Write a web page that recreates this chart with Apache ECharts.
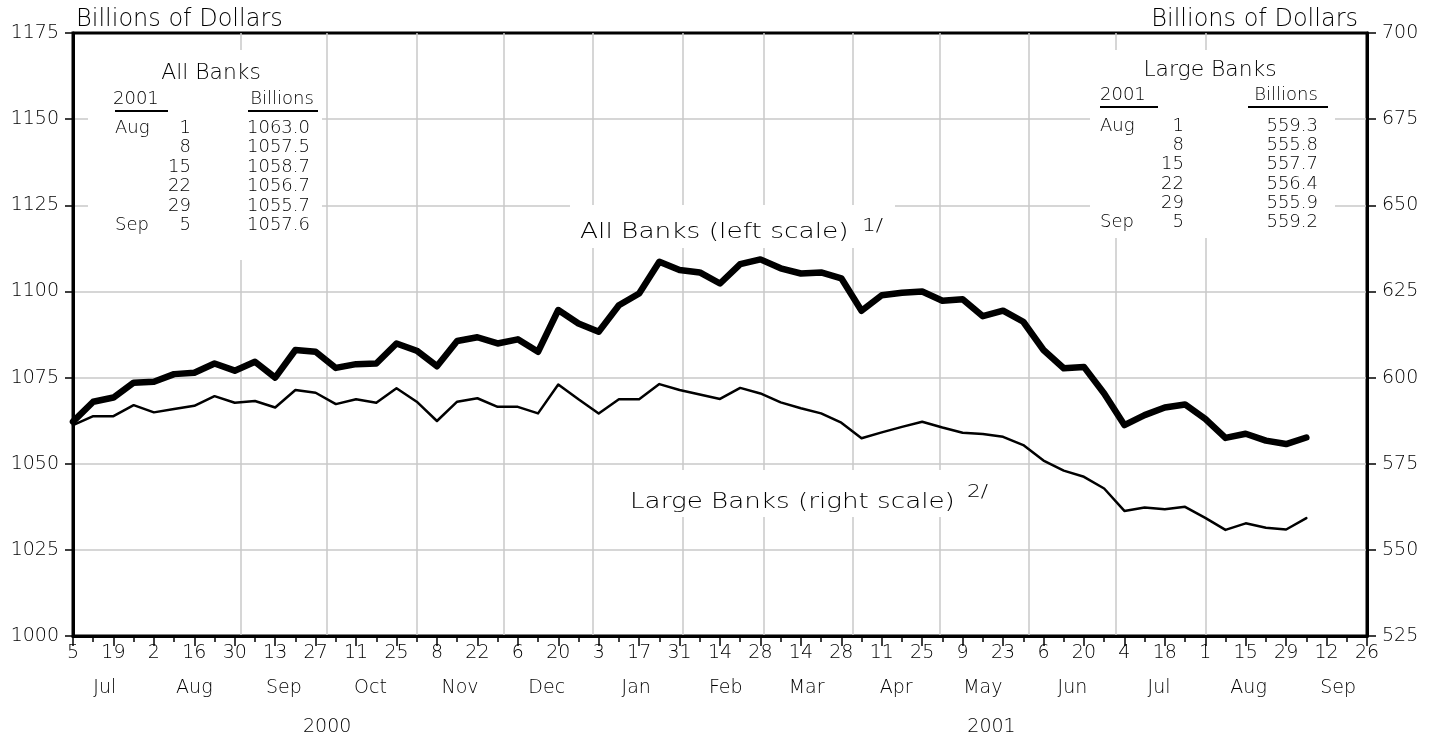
<!DOCTYPE html>
<html><head><meta charset="utf-8">
<script src="https://cdn.jsdelivr.net/npm/echarts@6/dist/echarts.min.js"></script>
<style>html,body{margin:0;padding:0;background:#fff}#c{width:1451px;height:738px}</style>
</head><body><div id="c"></div>
<script>
// ---- data ----
const startDate = [2000, 6, 5];   // first weekly observation: Jul 5, 2000
const endDate = [2001, 8, 26];    // axis end: Sep 26, 2001
const allBanks = [1062.2,1068.0,1069.2,1073.5,1073.8,1076.0,1076.4,1079.1,1077.0,1079.6,
  1075.0,1083.0,1082.5,1077.8,1078.9,1079.1,1084.9,1082.8,1078.3,1085.6,
  1086.7,1084.9,1086.1,1082.5,1094.6,1090.7,1088.3,1096.0,1099.4,1108.6,
  1106.2,1105.5,1102.3,1107.9,1109.3,1106.7,1105.2,1105.5,1103.8,1094.4,
  1098.9,1099.6,1100.0,1097.3,1097.7,1092.8,1094.4,1091.2,1083.0,1077.7,
  1078.1,1070.4,1061.2,1064.1,1066.3,1067.2,1063.0,1057.5,1058.7,1056.7,
  1055.7,1057.6];
const largeBanks = [586.2,588.8,588.8,592.0,589.9,590.9,591.8,594.6,592.7,593.2,
  591.3,596.4,595.6,592.3,593.7,592.7,596.9,593.0,587.4,593.0,
  594.0,591.5,591.5,589.6,598.0,593.7,589.6,593.7,593.7,598.1,
  596.4,595.1,593.8,597.0,595.4,592.8,591.1,589.6,586.9,582.4,
  584.1,585.7,587.2,585.5,584.0,583.6,582.8,580.4,575.9,573.0,
  571.2,567.8,561.3,562.3,561.8,562.5,559.3,555.8,557.7,556.4,
  555.9,559.2];
const allBanksTable = ['1063.0','1057.5','1058.7','1056.7','1055.7','1057.6'];
const largeBanksTable = ['559.3','555.8','557.7','556.4','555.9','559.2'];
const tableMonths = ['Aug','','','','','Sep'];
const tableDays = ['1','8','15','22','29','5'];
const monthNames = ['Jan','Feb','Mar','Apr','May','Jun','Jul','Aug','Sep','Oct','Nov','Dec'];
const yearLabelDates = [[2000,9,1],[2001,4,19]];
const leftTicks = {min:1000, max:1175, interval:25};
const rightTicks = {min:525, max:700, interval:25};

// ---- helpers ----
const DAY = 86400000;
const t0 = Date.UTC(startDate[0], startDate[1], startDate[2]);
const dayOf = (y,m,d) => (Date.UTC(y,m,d) - t0) / DAY;
const xMax = dayOf(endDate[0], endDate[1], endDate[2]);
const monthStarts = [], monthMids = [];
for (let y = 2000, m = 6; y < 2001 || m <= 8; ) {
  const s = dayOf(y, m, 1); if (s > 0) monthStarts.push(s);
  monthMids.push(dayOf(y, m, 16));
  m++; if (m > 11) { m = 0; y++; }
}
const yearMids = yearLabelDates.map(d => dayOf(d[0], d[1], d[2]));
const dateOf = v => new Date(t0 + v * DAY);

const FONT = '"DejaVu Sans"';
const lab = {fontFamily: 'DejaVu Sans', color: '#000', fontSize: 19, fontWeight: 200};
const gridBox = {left: 73, right: 84, top: 33, bottom: 102};

// ---- graphics (tables & labels) ----
const G = [];
function txt(text, x, y, size, align, sx) {
  G.push({type:'text', x:x, y:y, scaleX: sx || 1, z: 50,
    style:{text:text, fill:'#000', font: '200 ' + size + 'px ' + FONT,
      align: align, textAlign: align, verticalAlign:'middle', textVerticalAlign:'middle'}});
}
function rect(x, y, w, h) { G.push({type:'rect', z: 40, shape:{x:x,y:y,width:w,height:h}, style:{fill:'#fff'}}); }
function hline(x1, x2, y) { G.push({type:'line', z: 50, shape:{x1:x1,y1:y,x2:x2,y2:y}, style:{stroke:'#000', lineWidth:2}}); }
function table(box, title, titleX, titleY, hdrY, yearX, billX, ulY, ul1, ul2, rowY, dy, monX, dayX, valX, vals) {
  rect(box[0], box[1], box[2], box[3]);
  txt(title, titleX, titleY, 21, 'center', 1.04);
  txt('2001', yearX, hdrY, 18, 'left');
  txt('Billions', billX, hdrY, 18, 'center');
  hline(ul1[0], ul1[1], ulY); hline(ul2[0], ul2[1], ulY);
  vals.forEach((v, i) => {
    const y = rowY + i * dy;
    if (tableMonths[i]) txt(tableMonths[i], monX, y, 18, 'left');
    txt(tableDays[i], dayX, y, 18, 'right');
    txt(v, valX, y, 18, 'right');
  });
}
table([88,50,234,210], 'All Banks', 211, 74, 99, 113, 282, 111, [115,168], [248,318], 128, 19.5, 115, 191, 310, allBanksTable);
table([1090,50,245,188], 'Large Banks', 1210, 71, 95, 1100, 1286, 107, [1100,1158], [1248,1328], 126, 19.3, 1100, 1184, 1318, largeBanksTable);
rect(570, 205, 325, 43);
txt('All Banks (left scale)', 580, 232, 22, 'left', 1.2);
txt('1/', 862, 226, 18, 'left', 1.2);
rect(620, 470, 390, 47);
txt('Large Banks (right scale)', 630, 502, 22, 'left', 1.19);
txt('2/', 967, 492, 18, 'left', 1.2);

const noAxis = {axisLine:{show:false}, axisTick:{show:false}, axisLabel:{show:false}, splitLine:{show:false}};

const option = {
  animation: false,
  backgroundColor: '#fff',
  grid: [
    Object.assign({show:true, borderColor:'#000', borderWidth:3, backgroundColor:'transparent'}, gridBox),
    Object.assign({}, gridBox),
    Object.assign({}, gridBox)
  ],
  xAxis: [
    {type:'value', gridIndex:0, min:0, max:xMax, interval:14, position:'bottom',
     axisLine:{show:true, onZero:false, lineStyle:{color:'#000', width:3}},
     axisTick:{show:true, length:10, lineStyle:{color:'#000', width:1.5}},
     minorTick:{show:true, splitNumber:2, length:6, lineStyle:{color:'#000', width:1.5}},
     axisLabel:Object.assign({}, lab, {margin:8, formatter: v => String(dateOf(v).getUTCDate())}),
     splitLine:{show:false}, minorSplitLine:{show:false}},
    {type:'value', gridIndex:1, min:0, max:xMax, position:'bottom',
     axisLine:{show:false},
     axisTick:{show:false, customValues: monthStarts},
     splitLine:{show:true, showMinLine:false, showMaxLine:false, lineStyle:{color:'#c8c8c8', width:1.5}},
     axisLabel:Object.assign({}, lab, {margin:43, customValues: monthMids,
       formatter: v => monthNames[dateOf(v).getUTCMonth()]})},
    {type:'value', gridIndex:2, min:0, max:xMax, position:'bottom',
     axisLine:{show:false}, axisTick:{show:false, customValues: yearMids}, splitLine:{show:false},
     axisLabel:Object.assign({}, lab, {margin:82, customValues: yearMids,
       formatter: v => String(dateOf(v).getUTCFullYear())})}
  ],
  yAxis: [
    {type:'value', gridIndex:0, position:'left', min:leftTicks.min, max:leftTicks.max, interval:leftTicks.interval,
     name:'Billions of Dollars', nameLocation:'end', nameGap:1,
     nameTextStyle:{fontFamily:'DejaVu Sans', fontSize:24, fontWeight:200, color:'#000', align:'left', verticalAlign:'bottom', padding:[0,0,0,3]},
     axisLine:{show:true, onZero:false, lineStyle:{color:'#000', width:3}},
     axisTick:{show:true, length:8, lineStyle:{color:'#000', width:1.5}},
     axisLabel:Object.assign({}, lab, {margin:14, formatter: v => String(v)}),
     splitLine:{show:true, showMinLine:false, showMaxLine:false, lineStyle:{color:'#c8c8c8', width:1.5}}},
    {type:'value', gridIndex:0, position:'right', min:rightTicks.min, max:rightTicks.max, interval:rightTicks.interval,
     name:'Billions of Dollars', nameLocation:'end', nameGap:1,
     nameTextStyle:{fontFamily:'DejaVu Sans', fontSize:24, fontWeight:200, color:'#000', align:'right', verticalAlign:'bottom', padding:[0,9,0,0]},
     axisLine:{show:true, onZero:false, lineStyle:{color:'#000', width:3}},
     axisTick:{show:true, length:9, lineStyle:{color:'#000', width:1.5}},
     axisLabel:Object.assign({}, lab, {margin:15, formatter: v => String(v)}),
     splitLine:{show:false}},
    Object.assign({type:'value', gridIndex:1, min:0, max:1}, noAxis),
    Object.assign({type:'value', gridIndex:2, min:0, max:1}, noAxis)
  ],
  series: [
    {name:'All Banks', type:'line', xAxisIndex:0, yAxisIndex:0, z:3, showSymbol:false, symbol:'none',
     lineStyle:{color:'#000', width:6.5, cap:'round', join:'round'},
     data: allBanks.map((v, i) => [i * 7, v])},
    {name:'Large Banks', type:'line', xAxisIndex:0, yAxisIndex:1, z:3, showSymbol:false, symbol:'none',
     lineStyle:{color:'#000', width:2.5, cap:'round', join:'round'},
     data: largeBanks.map((v, i) => [i * 7, v])}
  ],
  graphic: {elements: G}
};
const chart = echarts.init(document.getElementById('c'), null, {renderer:'canvas'});
chart.setOption(option);
</script></body></html>
